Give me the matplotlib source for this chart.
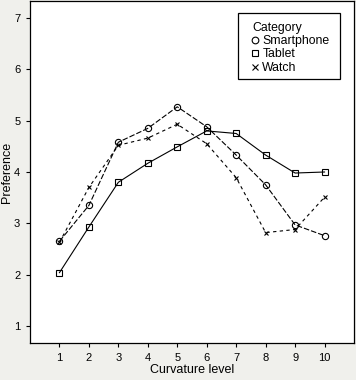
import matplotlib
matplotlib.use("Agg")
import matplotlib.pyplot as plt
from matplotlib.lines import Line2D
from matplotlib.patches import Rectangle

plt.rcParams['font.family'] = ['Liberation Sans', 'DejaVu Sans']

# data
levels = [1, 2, 3, 4, 5, 6, 7, 8, 9, 10]
smartphone = [2.65, 3.35, 4.58, 4.85, 5.27, 4.88, 4.33, 3.75, 2.97, 2.76]
tablet = [2.04, 2.93, 3.80, 4.17, 4.49, 4.80, 4.75, 4.33, 3.98, 4.00]
watch = [2.63, 3.70, 4.52, 4.66, 4.93, 4.55, 3.89, 2.82, 2.88, 3.51]
series_names = ["Smartphone", "Tablet", "Watch"]

bg = "#f0f0ec"
fig = plt.figure(figsize=(3.56, 3.80), dpi=100, facecolor=bg)
ax = fig.add_axes([30 / 356, 37 / 380, 324 / 356, 342 / 380])
ax.set_facecolor("white")

ax.plot(levels, smartphone, color="black", lw=0.8, ls=(0, (5, 1.8)),
        marker="o", ms=4.5, mfc="none", mec="black", mew=0.8)
ax.plot(levels, tablet, color="black", lw=0.8, ls="-",
        marker="s", ms=4.3, mfc="none", mec="black", mew=0.8)
ax.plot(levels, watch, color="black", lw=0.8, ls=(0, (3, 3)),
        marker="x", ms=3, mec="black", mew=0.8)

ax.set_xlim(0, 11)
ax.set_ylim(0.67, 7.33)
ax.set_xticks(levels)
ax.set_yticks([1, 2, 3, 4, 5, 6, 7])
ax.tick_params(labelsize=8, length=3, width=0.8, direction="out", pad=4)
for s in ax.spines.values():
    s.set_linewidth(0.9)

ax.set_xlabel("Curvature level", fontsize=9, labelpad=1)
ax.set_ylabel("Preference", fontsize=9)
ax.yaxis.set_label_coords(-0.053, 0.5)

handles = [
    Line2D([], [], ls="none", marker="o", ms=4.8, mfc="none", mec="black", mew=0.8),
    Line2D([], [], ls="none", marker="s", ms=4.6, mfc="none", mec="black", mew=0.8),
    Line2D([], [], ls="none", marker="x", ms=4, mec="black", mew=0.8),
]
leg = ax.legend(handles, series_names, title="Category", loc="upper left",
                bbox_to_anchor=(0.687, 0.940), fontsize=8.8, title_fontsize=8.8,
                frameon=False, handlelength=0.45, handletextpad=0.35,
                labelspacing=0.12, borderpad=0, borderaxespad=0, alignment="left")
# legend frame with wider side padding
ax.add_patch(Rectangle((0.642, 0.772), 0.315, 0.193, transform=ax.transAxes,
                       facecolor="white", edgecolor="black", lw=0.9, zorder=4))
leg.set_zorder(5)

fig.savefig("out.png", dpi=100, facecolor=bg)
